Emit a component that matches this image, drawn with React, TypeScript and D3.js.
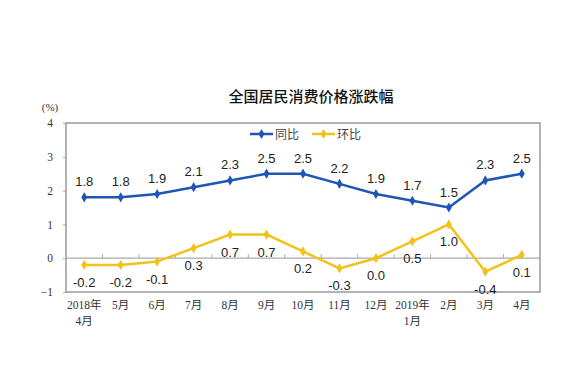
import { useEffect, useRef } from "react";
import * as d3 from "d3";

const months = ["2018年\n4月", "5月", "6月", "7月", "8月", "9月", "10月", "11月", "12月", "2019年\n1月", "2月", "3月", "4月"];
const yoy = [1.8, 1.8, 1.9, 2.1, 2.3, 2.5, 2.5, 2.2, 1.9, 1.7, 1.5, 2.3, 2.5];
const mom = [-0.2, -0.2, -0.1, 0.3, 0.7, 0.7, 0.2, -0.3, 0.0, 0.5, 1.0, -0.4, 0.1];
const yTicks = [-1, 0, 1, 2, 3, 4];

const BLUE = "#1d56b4";
const YELLOW = "#f2c21b";

function App() {
  const ref = useRef<SVGSVGElement>(null);

  useEffect(() => {
    const svg = d3.select(ref.current);
    svg.selectAll("*").remove();

    const left = 66, right = 540, top = 123, bottom = 292;
    const x = d3.scaleBand<number>().domain(d3.range(months.length)).range([left, right]);
    const cx = (i: number) => x(i)! + x.bandwidth() / 2;
    const y = d3.scaleLinear().domain([-1, 4]).range([bottom, top]);

    svg.append("rect").attr("width", 572).attr("height", 369).attr("fill", "#fff");

    // title
    svg.append("text")
      .attr("x", 311).attr("y", 102)
      .attr("text-anchor", "middle")
      .attr("font-family", "'Noto Sans CJK SC', sans-serif")
      .attr("font-size", 15).attr("font-weight", 500)
      .attr("fill", "#111")
      .text("全国居民消费价格涨跌幅");

    svg.append("text")
      .attr("x", 50).attr("y", 111)
      .attr("text-anchor", "middle")
      .attr("font-family", "'Liberation Serif', serif")
      .attr("font-size", 11).attr("fill", "#333")
      .text("(%)");

    // y axis labels
    const yAxis = d3.axisLeft(y).tickValues(yTicks).tickSize(3).tickPadding(10).tickFormat(d3.format("d"));
    const gy = svg.append("g").attr("transform", `translate(${left},0)`).call(yAxis);
    gy.select(".domain").remove();
    gy.selectAll("line").attr("stroke", "#aaa");
    gy.selectAll("text").attr("font-family", "'Liberation Serif', serif").attr("font-size", 11.5).attr("fill", "#333");

    // frame
    svg.append("rect")
      .attr("x", left).attr("y", top).attr("width", right - left).attr("height", bottom - top)
      .attr("fill", "none").attr("stroke", "#999").attr("stroke-width", 1.5);

    // zero line with ticks
    const gx = svg.append("g").attr("transform", `translate(0,${y(0)})`);
    gx.append("line").attr("x1", left).attr("x2", right).attr("stroke", "#aaa").attr("stroke-width", 1.2);
    gx.selectAll("line.tk").data(d3.range(1, months.length)).join("line")
      .attr("class", "tk")
      .attr("x1", (i) => x(i)!).attr("x2", (i) => x(i)!)
      .attr("y1", 0).attr("y2", -4)
      .attr("stroke", "#aaa");

    // x labels
    const xl = svg.append("g")
      .attr("font-family", "'Liberation Serif', 'Noto Sans CJK SC', serif")
      .attr("font-size", 11.5).attr("fill", "#333").attr("text-anchor", "middle");
    months.forEach((m, i) => {
      const t = xl.append("text").attr("x", cx(i)).attr("y", 309);
      m.split("\n").forEach((part, k) => {
        t.append("tspan").attr("x", cx(i)).attr("dy", k === 0 ? 0 : 16).text(part);
      });
    });

    const line = d3.line<number>().x((_, i) => cx(i)).y((d) => y(d));
    const diamond = d3.symbol().type(d3.symbolDiamond).size(30);

    const drawSeries = (vals: number[], color: string, labelDy: number) => {
      svg.append("path").datum(vals).attr("d", line)
        .attr("fill", "none").attr("stroke", color).attr("stroke-width", 2.5);
      svg.append("g").selectAll("path").data(vals).join("path")
        .attr("d", diamond)
        .attr("transform", (d, i) => `translate(${cx(i)},${y(d)})`)
        .attr("fill", color);
      svg.append("g").selectAll("text").data(vals).join("text")
        .attr("x", (_, i) => cx(i))
        .attr("y", (d) => y(d) + labelDy)
        .attr("text-anchor", "middle")
        .attr("font-family", "Arial, 'Liberation Sans', sans-serif")
        .attr("font-size", 13).attr("fill", "#222")
        .text((d) => d.toFixed(1));
    };
    drawSeries(yoy, BLUE, -11);
    drawSeries(mom, YELLOW, 22);

    // legend
    const legend = [
      { name: "同比", color: BLUE, x: 250 },
      { name: "环比", color: YELLOW, x: 312 },
    ];
    legend.forEach((l) => {
      const g = svg.append("g").attr("transform", `translate(${l.x},134)`);
      g.append("line").attr("x1", 0).attr("x2", 23).attr("stroke", l.color).attr("stroke-width", 2.5);
      g.append("path").attr("d", diamond).attr("transform", "translate(11.5,0)").attr("fill", l.color);
      g.append("text").attr("x", 25).attr("y", 4.5)
        .attr("font-family", "'Noto Sans CJK SC', sans-serif")
        .attr("font-size", 12).attr("fill", "#444").text(l.name);
    });
  }, []);

  return (
    <svg ref={ref} width={572} height={369}
      style={{ position: "absolute", left: 0, top: 0, display: "block" }} />
  );
}

export default App;
